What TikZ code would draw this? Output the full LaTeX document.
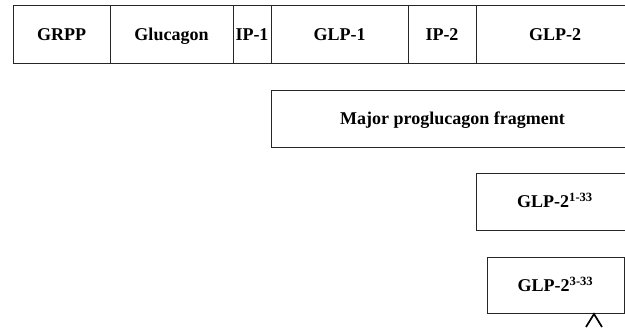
\documentclass[tikz,border=0pt]{standalone}
\usepackage{fontspec}
\setmainfont{Liberation Serif}
\usepackage{tikz}
\usetikzlibrary{positioning}
\newcommand{\glptwo}[1]{GLP-2\textsuperscript{#1}}

\begin{document}
\begin{tikzpicture}[
    x = 1pt, y = -1pt,
    segment/.style =
    { shape          = rectangle,
      draw           = black!85,
      line width     = 0.8pt,
      inner sep      = 1pt,
      outer sep      = 0pt,
      text height    = 13pt,
      text depth     = 0pt,
      minimum height = 58pt,
      font           = \fontsize{18}{20}\selectfont\bfseries },
    fragment/.style =
    { segment,
      anchor         = north west,
      minimum height = 57pt },
    cut/.style =
    { line width = 1.7pt,
      line join  = miter }
  ]
  \useasboundingbox (0,0) rectangle (625,328);
  \clip (0,0) rectangle (625,328);

  % proglucagon
  \node[segment, anchor = north west, minimum width = 97pt] (grpp) at (13,5) {GRPP};
  \node[segment, minimum width = 123pt, right = 0pt of grpp] (glucagon) {Glucagon};
  \node[segment, minimum width = 38pt, right = 0pt of glucagon] (ipone) {IP-1};
  \node[segment, minimum width = 137pt, right = 0pt of ipone] (glpone) {GLP-1};
  \node[segment, minimum width = 68pt, right = 0pt of glpone] (iptwo) {IP-2};
  \node[segment, minimum width = 158pt, right = 0pt of iptwo] (glptwo) {GLP-2};

  % processed fragments
  \node[fragment, minimum width = 363pt] (major) at (271,90) {Major proglucagon fragment};
  \node[fragment, minimum width = 158pt] (glplong) at (476,173) {\glptwo{1-33}};
  \node[fragment, minimum width = 137pt, minimum height = 56pt] (glpshort) at (487,257) {\glptwo{3-33}};

  \coordinate (site) at ([xshift = 107pt, yshift = -1pt]glpshort.south west);
  \draw[cut] ([xshift = -8pt, yshift = -13pt]site) -- (site) -- ([xshift = 8pt, yshift = -13pt]site);
\end{tikzpicture}
\end{document}
